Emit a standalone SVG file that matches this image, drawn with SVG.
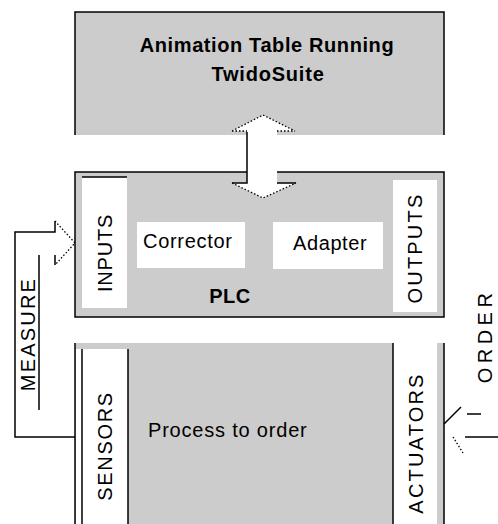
<svg xmlns="http://www.w3.org/2000/svg" width="498" height="524" viewBox="0 0 498 524">
<style>
  .gray{fill:#cccccc;stroke:none}
  .white{fill:#ffffff;stroke:none}
  .ln{fill:none;stroke:#000;stroke-width:1.5}
  .dot{fill:none;stroke:#000;stroke-width:1.3;stroke-dasharray:1.5 2}
  .t{font-family:"Liberation Sans",Arial,sans-serif;font-size:20px;fill:#000}
  .b{font-weight:bold}
</style>
<rect width="498" height="524" fill="#ffffff"/>

<g id="animation-table">
  <rect class="gray" x="75" y="12" width="369" height="123"/>
  <path class="ln" d="M75,135 V12 H444 V135"/>
  <text class="t b" x="267" y="52" text-anchor="middle" letter-spacing="0.6">Animation Table Running</text>
  <text class="t b" x="268" y="81" text-anchor="middle" letter-spacing="0.8">TwidoSuite</text>
</g>

<g id="plc">
  <rect class="gray" x="75" y="172" width="369" height="145"/>
  <rect class="ln" x="75" y="172" width="369" height="145"/>
  <text class="t b" x="230" y="303" text-anchor="middle" letter-spacing="0.5">PLC</text>
</g>
<g id="inputs">
  <rect class="white" x="82" y="177" width="45" height="131"/>
  <line class="ln" x1="82" y1="177" x2="127" y2="177"/>
  <text class="t" transform="translate(112,253) rotate(-90)" text-anchor="middle" letter-spacing="0.8">INPUTS</text>
</g>
<g id="corrector">
  <rect class="white" x="137" y="222" width="108" height="46"/>
  <text class="t" x="143" y="248" letter-spacing="0.7">Corrector</text>
</g>
<g id="adapter">
  <rect class="white" x="273" y="222" width="110" height="47"/>
  <text class="t" x="293" y="250" letter-spacing="0.6">Adapter</text>
</g>
<g id="outputs">
  <rect class="white" x="393" y="180" width="44" height="132"/>
  <text class="t" transform="translate(422,248) rotate(-90)" text-anchor="middle" letter-spacing="2.2">OUTPUTS</text>
</g>

<g id="process">
  <rect class="gray" x="75" y="343" width="369" height="190"/>
  <rect class="white" x="76" y="349" width="6" height="180"/>
  <path class="ln" d="M75,343 V524 M444,343 V524"/>
  <text class="t" x="148" y="437" letter-spacing="0.8">Process to order</text>
</g>
<g id="sensors">
  <rect class="white" x="82" y="349" width="46" height="180"/>
  <path class="ln" d="M82,349 V524 M128,349 V524"/>
  <text class="t" transform="translate(112,446) rotate(-90)" text-anchor="middle" letter-spacing="1.7">SENSORS</text>
</g>
<g id="actuators">
  <rect class="white" x="393" y="343" width="44" height="190"/>
  <path class="ln" d="M393,343 V524"/>
  <text class="t" transform="translate(423,443) rotate(-90)" text-anchor="middle" letter-spacing="2.2">ACTUATORS</text>
</g>

<g id="connectors">
  <!-- double block arrow between Animation Table and PLC -->
  <polygon class="white" points="247,131 232,131 263,115 295,131 277,131 277,183 296,183 263,198 232,183 247,183"/>
  <path class="dot" d="M232,131 L263,115 L295,131 M232,131 H247 M277,131 H295"/>
  <path class="dot" d="M232,183 L263,198 L296,183"/>
  <path class="ln" d="M247,132 V183 H232 M277,183 H296"/>

  <!-- MEASURE arrow -->
  <path class="ln" d="M75,437 H15 V232 H55 V221"/>
  <path class="dot" d="M55,221 L75,243 L55,265"/>
  <path class="ln" d="M55,255 V265"/>
  <line class="ln" x1="39" y1="255" x2="39" y2="410"/>
  <text class="t" transform="translate(35,334) rotate(-90)" text-anchor="middle" letter-spacing="2.2">MEASURE</text>

  <!-- ORDER arrow -->
  <path class="ln" d="M467,414 H481 M465,437 H498 M461,407 L444,424"/>
  <path class="dot" d="M453,437 L463,453"/>
  <text class="t" transform="translate(492,336) rotate(-90)" text-anchor="middle" letter-spacing="4.5">ORDER</text>
</g>
</svg>
